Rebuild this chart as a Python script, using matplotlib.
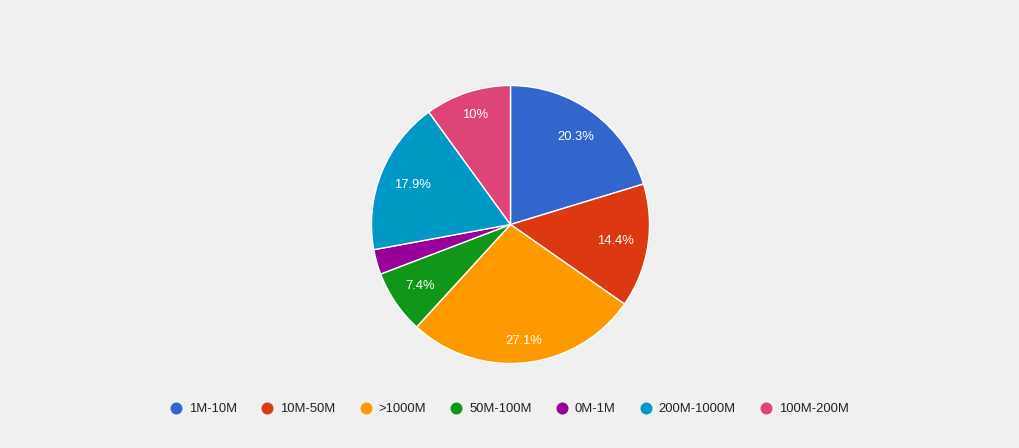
import numpy as np
import matplotlib
matplotlib.use("Agg")
import matplotlib.pyplot as plt
from matplotlib.lines import Line2D

categories = ["1M-10M", "10M-50M", ">1000M", "50M-100M", "0M-1M", "200M-1000M", "100M-200M"]
values = [20.3, 14.4, 27.1, 7.4, 2.9, 17.9, 10.0]
colors = ["#3366cc", "#dc3912", "#ff9900", "#109618", "#990099", "#0099c6", "#dd4477"]

plt.rcParams['font.family'] = ['Liberation Sans', 'DejaVu Sans']

W, H = 1019, 448
fig = plt.figure(figsize=(W / 100, H / 100), dpi=100, facecolor="#f0f0f0")
ax = fig.add_axes([0, 0, 1, 1])
ax.set_facecolor("#f0f0f0")

R = 139
cx, cy = 510.5, H - 224.5
wedges, _ = ax.pie(values, colors=colors, startangle=90, counterclock=False,
                   center=(cx, cy), radius=R,
                   wedgeprops=dict(edgecolor="white", linewidth=1))
ax.set_xlim(0, W)
ax.set_ylim(0, H)
ax.set_aspect("equal")
ax.axis("off")

total = sum(values)
fs = 13 * 72 / 100
fig.canvas.draw()
renderer = fig.canvas.get_renderer()
for w, v in zip(wedges, values):
    pct = v / total * 100
    if pct < 5:
        continue
    s = f"{pct:.1f}".rstrip("0").rstrip(".") + "%"
    t = ax.text(cx, cy, s, color="white", fontsize=fs, ha="center", va="center")
    bb = t.get_window_extent(renderer)
    hw, hh = bb.width / 2, bb.height / 2
    th = np.deg2rad((w.theta1 + w.theta2) / 2)
    ext = abs(np.cos(th)) * hw + abs(np.sin(th)) * hh
    r = 0.9 * R - ext
    t.set_position((cx + r * np.cos(th), cy + r * np.sin(th)))

handles = [Line2D([], [], marker="o", linestyle="", markersize=12 * 72 / 100,
                  markerfacecolor=c, markeredgewidth=0) for c in colors]
fig.legend(handles, categories, loc="center", bbox_to_anchor=(0.5, (H - 409) / H),
           ncol=len(categories), frameon=False, fontsize=fs, labelcolor="#222222",
           handlelength=0.92, handletextpad=0.54, columnspacing=1.85, borderpad=0)

fig.savefig("out.png", dpi=100, facecolor="#f0f0f0")
